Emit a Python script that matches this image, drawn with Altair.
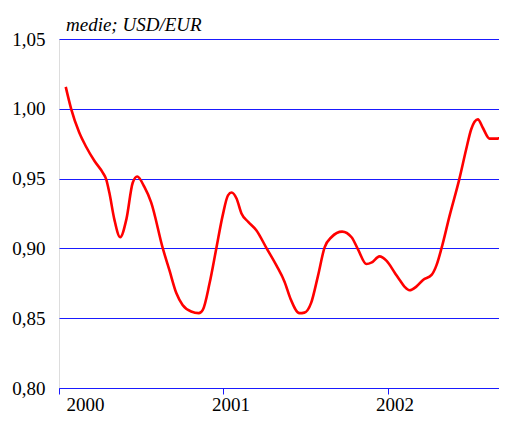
import altair as alt
import pandas as pd

dates = [
    "2000-01-16", "2000-01-28", "2000-02-15", "2000-03-01", "2000-03-20",
    "2000-04-08", "2000-04-15", "2000-04-22", "2000-05-03", "2000-05-16",
    "2000-05-30", "2000-06-13", "2000-06-23", "2000-07-09", "2000-07-24",
    "2000-08-19", "2000-09-03", "2000-09-18", "2000-10-02", "2000-10-21",
    "2000-11-07", "2000-11-16", "2000-12-01", "2000-12-16", "2000-12-30",
    "2001-01-11", "2001-01-19", "2001-01-30", "2001-02-10", "2001-02-25",
    "2001-03-15", "2001-04-07", "2001-04-29", "2001-05-17", "2001-05-30",
    "2001-06-19", "2001-06-30", "2001-07-15", "2001-07-30", "2001-08-14",
    "2001-08-29", "2001-09-22", "2001-10-13", "2001-10-27", "2001-11-15",
    "2001-11-27", "2001-12-14", "2001-12-30", "2002-01-17", "2002-01-28",
    "2002-02-08", "2002-02-19", "2002-03-06", "2002-03-21", "2002-04-09",
    "2002-04-20", "2002-05-01", "2002-05-19", "2002-06-10", "2002-06-25",
    "2002-07-06", "2002-07-21", "2002-08-01", "2002-08-16", "2002-08-31",
    "2002-09-18",
]
values = [
    1.0157, 1.000, 0.983, 0.973, 0.9626,
    0.954, 0.9495, 0.940, 0.921, 0.908,
    0.921, 0.947, 0.9515, 0.944, 0.933,
    0.900, 0.884, 0.868, 0.8595, 0.8548,
    0.8536, 0.856, 0.875, 0.900, 0.9233,
    0.938, 0.940, 0.9357, 0.925, 0.919,
    0.913, 0.900, 0.8876, 0.876, 0.864,
    0.8536, 0.854, 0.861, 0.880, 0.9007,
    0.908, 0.912, 0.908, 0.8995, 0.8888,
    0.890, 0.8943, 0.891, 0.8826, 0.8774,
    0.8725, 0.870, 0.8726, 0.8774, 0.881,
    0.888, 0.900, 0.9233, 0.950, 0.971,
    0.9852, 0.9924, 0.9864, 0.9786, 0.9786,
    0.981,
]
y_ticks = [0.80, 0.85, 0.90, 0.95, 1.00, 1.05]
x_years = [2000, 2001, 2002]

df = pd.DataFrame({"date": dates, "value": values})

FONT = "Liberation Serif"
BLUE = "#1a1aff"

chart = (
    alt.Chart(df, title=alt.Title(
        "medie; USD/EUR", anchor="start", frame="group", font=FONT, fontSize=19,
        fontStyle="italic", fontWeight="normal", color="#000000", dx=7, offset=-5,
    ))
    .mark_line(color="#ff0000", strokeWidth=2.6, interpolate="monotone", clip=True)
    .encode(
        x=alt.X(
            "date:T",
            scale=alt.Scale(domain=[alt.DateTime(year=2000, month=1, date=1),
                                    alt.DateTime(year=2002, month=9, date=6)]),
            axis=alt.Axis(
                title=None, values=[alt.DateTime(year=y, month=1, date=1) for y in x_years],
                format="%Y", grid=False, domainColor=BLUE, domainWidth=1.2,
                tickColor=BLUE, tickSize=6, labelFont=FONT, labelFontSize=19,
                labelColor="#000000", labelPadding=1, labelOffset=7,
            ),
        ),
        y=alt.Y(
            "value:Q",
            scale=alt.Scale(domain=[0.80, 1.05], nice=False, zero=False),
            axis=alt.Axis(
                title=None, values=y_ticks, grid=True, gridColor=BLUE, gridWidth=1,
                gridOpacity=1, domain=False, ticks=False, labelFont=FONT,
                labelFontSize=19, labelColor="#000000", labelPadding=14,
                labelExpr="replace(format(datum.value, '.2f'), '.', ',')",
            ),
        ),
    )
    .properties(
        width=440, height=349, autosize="none",
        padding={"left": 51, "top": 31, "right": 0, "bottom": 25},
    )
    .configure_view(stroke=None)
    .configure(background="#ffffff")
)

chart.save("out.html", embed_options={"renderer": "svg", "actions": False})
